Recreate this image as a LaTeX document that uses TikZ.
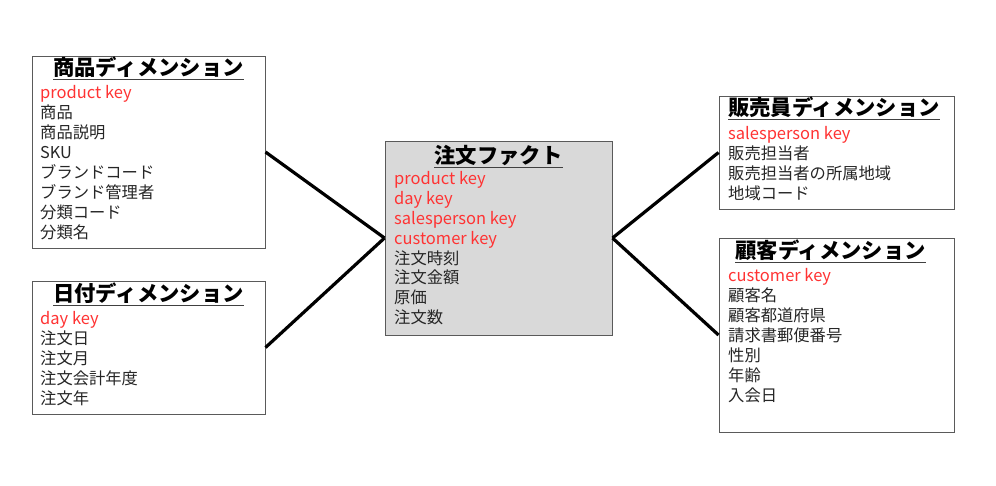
\documentclass[tikz,border=0pt]{standalone}
\usepackage{fontspec}
\newfontfamily\jp{Noto Sans CJK JP}
\definecolor{keyred}{HTML}{FF3333}
\definecolor{txt}{HTML}{262626}
\definecolor{factgray}{HTML}{D9D9D9}
\definecolor{bordergray}{HTML}{5A5A5A}
\tikzset{
  tbl/.style={draw=bordergray, line width=1pt, inner sep=0pt, fill=white},
  facttbl/.style={tbl, fill=factgray},
  ttl/.style={font=\jp\bfseries\fontsize{21.3}{24}\selectfont, text=black, inner sep=0pt, anchor=base},
  uline/.style={draw=black!75, line width=0.9pt},
  keyf/.style={font=\jp\fontsize{16.5}{20}\selectfont, text=keyred, inner sep=0pt, anchor=base west},
  fld/.style={font=\jp\fontsize{16.3}{20}\selectfont, text=txt, inner sep=0pt, anchor=base west},
  link/.style={draw=black, line width=3.2pt}
}
\begin{document}
\begin{tikzpicture}[x=1pt,y=-1pt]
\useasboundingbox (0,0) rectangle (996,485);
% boxes
\node[tbl, minimum width=233pt, minimum height=192pt] (prod) at (148.5,152) {};
\node[tbl, minimum width=233pt, minimum height=133pt] (date) at (148.5,347.5) {};
\node[facttbl, minimum width=227pt, minimum height=194pt] (fact) at (498.5,238) {};
\node[tbl, minimum width=235pt, minimum height=113pt] (sales) at (836.5,152.5) {};
\node[tbl, minimum width=235pt, minimum height=194pt] (cust) at (836.5,335) {};
% connectors
\draw[link] (prod.east) -- (fact.west);
\draw[link] (date.east) -- (fact.west);
\draw[link] (fact.east) -- (sales.west);
\draw[link] (fact.east) -- (cust.west);
% titles
\node[ttl] (prodT) at (148.5,75.5) {商品ディメンション};
\node[ttl] (dateT) at (148.5,301.5) {日付ディメンション};
\node[ttl] (factT) at (498.5,163.5) {注文ファクト};
\node[ttl] (salesT) at (834,115.5) {販売員ディメンション};
\node[ttl] (custT) at (830.5,258.5) {顧客ディメンション};
\foreach \n in {prodT,dateT,factT,salesT,custT}
  \draw[uline] ([yshift=-4pt]\n.base west) -- ([yshift=-4pt]\n.base east);
% product fields
\node[keyf] (prodK) at (40,98) {product key};
\foreach \t [count=\i] in {商品,商品説明,SKU,ブランドコード,ブランド管理者,分類コード,分類名}
  \node[fld] (prod-\i) at (40,98+20*\i) {\t};
% date fields
\node[keyf] (dateK) at (40,324) {day key};
\foreach \t [count=\i] in {注文日,注文月,注文会計年度,注文年}
  \node[fld] (date-\i) at (40,324+20*\i) {\t};
% fact fields
\foreach \t [count=\i] in {product key,day key,salesperson key,customer key}
  \node[keyf] (factK-\i) at (394,165+19.8*\i) {\t};
\foreach \t [count=\i] in {注文時刻,注文金額,原価,注文数}
  \node[fld] (fact-\i) at (394,244.2+19.8*\i) {\t};
% sales fields
\node[keyf] (salesK) at (728,139) {salesperson key};
\foreach \t [count=\i] in {販売担当者,販売担当者の所属地域,地域コード}
  \node[fld] (sales-\i) at (728,139+20*\i) {\t};
% customer fields
\node[keyf] (custK) at (728,281) {customer key};
\foreach \t [count=\i] in {顧客名,顧客都道府県,請求書郵便番号,性別,年齢,入会日}
  \node[fld] (cust-\i) at (728,281+20*\i) {\t};
\end{tikzpicture}
\end{document}
